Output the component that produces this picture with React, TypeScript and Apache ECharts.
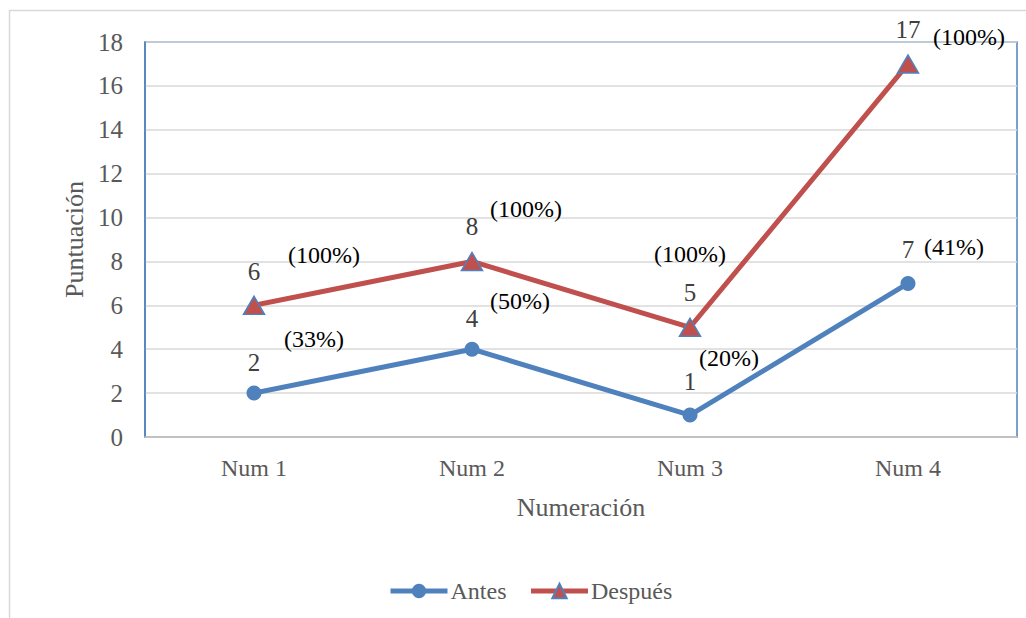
import React, { useEffect, useRef } from "react";
import * as echarts from "echarts";

// Chart data
const categories = ["Num 1", "Num 2", "Num 3", "Num 4"];
const antes = [2, 4, 1, 7];
const despues = [6, 8, 5, 17];
const antesPct = ["(33%)", "(50%)", "(20%)", "(41%)"];
const despuesPct = ["(100%)", "(100%)", "(100%)", "(100%)"];
const yTicks = { min: 0, max: 18, interval: 2 };

// Label placement relative to each point (x, y pixel offsets)
const antesValueOffsets = [[0, -31], [0, -31], [0, -34], [0, -34]];
const antesPctOffsets = [[60, -54], [48, -48], [39, -57], [46, -36]];
const despuesValueOffsets = [[0, -34], [0, -35], [0, -35], [0, -34]];
const despuesPctOffsets = [[70, -50], [54, -52], [0, -73], [61, -27]];

const FONT = "Liberation Serif";
const BLUE = "#4f81bd";
const RED = "#c0504d";
const GRAY_TEXT = "#595959";

function labeled(values: number[], texts: string[] | null, offsets: number[][], color: string, size: number) {
  return values.map((v, i) => ({
    value: v,
    label: {
      show: true,
      position: "inside",
      offset: offsets[i],
      formatter: texts ? texts[i] : String(v),
      color,
      opacity: 1,
      textBorderWidth: 0,
      textBorderColor: "transparent",
      fontFamily: FONT,
      fontWeight: "normal",
      fontSize: size,
    },
  }));
}

function hiddenLabelSeries(name: string, values: number[], texts: string[], offsets: number[][]) {
  return {
    name,
    type: "line",
    silent: true,
    showSymbol: true,
    symbol: "circle",
    symbolSize: 2,
    itemStyle: { color: "rgba(0,0,0,0)" },
    lineStyle: { color: "rgba(0,0,0,0)", width: 0 },
    z: 5,
    data: labeled(values, texts, offsets, "#000000", 24),
  };
}

export default function App() {
  const ref = useRef<HTMLDivElement>(null);

  useEffect(() => {
    document.body.style.margin = "0";
    if (!ref.current) return;
    const chart = echarts.init(ref.current, null, { renderer: "svg" });
    chart.setOption({
      animation: false,
      backgroundColor: "#ffffff",
      textStyle: { fontFamily: FONT },
      graphic: [
        {
          type: "rect",
          shape: { x: 9.5, y: 10.5, width: 1040, height: 640 },
          style: { fill: "none", stroke: "#d9d9d9", lineWidth: 1.5 },
          silent: true,
          z: -10,
        },
      ],
      grid: {
        left: 145,
        top: 42,
        right: 9,
        bottom: 181,
        show: true,
        borderColor: BLUE,
        borderWidth: 1.5,
        backgroundColor: "transparent",
      },
      legend: {
        data: ["Antes", "Después"],
        left: 383,
        top: 574,
        itemWidth: 57,
        itemHeight: 18,
        itemGap: 22,
        lineStyle: { width: 5 },
        textStyle: { fontFamily: FONT, fontSize: 24, color: GRAY_TEXT, padding: [0, 0, 0, -2] },
      },
      xAxis: {
        type: "category",
        data: categories,
        boundaryGap: true,
        name: "Numeración",
        nameLocation: "middle",
        nameGap: 57,
        nameTextStyle: { fontFamily: FONT, fontSize: 26, color: GRAY_TEXT },
        axisLine: { show: true, lineStyle: { color: "#bfbfbf", width: 1.5 } },
        axisTick: { show: false },
        axisLabel: { fontFamily: FONT, fontSize: 24, color: GRAY_TEXT, margin: 19 },
        splitLine: { show: false },
      },
      yAxis: {
        type: "value",
        min: yTicks.min,
        max: yTicks.max,
        interval: yTicks.interval,
        name: "Puntuación",
        nameLocation: "middle",
        nameGap: 58,
        nameTextStyle: { fontFamily: FONT, fontSize: 26, color: GRAY_TEXT },
        axisLine: { show: true, lineStyle: { color: BLUE, width: 1.5 } },
        axisTick: { show: false },
        axisLabel: { fontFamily: FONT, fontSize: 25, color: GRAY_TEXT, margin: 22 },
        splitLine: { show: true, lineStyle: { color: "#d9d9d9", width: 1.5 } },
      },
      series: [
        {
          name: "Antes",
          type: "line",
          symbol: "circle",
          symbolSize: 15,
          lineStyle: { color: BLUE, width: 5 },
          itemStyle: { color: BLUE },
          z: 3,
          data: labeled(antes, null, antesValueOffsets, "#404040", 25),
        },
        {
          name: "Después",
          type: "line",
          symbol: "triangle",
          symbolSize: [21, 18],
          lineStyle: { color: RED, width: 5 },
          itemStyle: { color: RED, borderColor: BLUE, borderWidth: 1.5 },
          z: 4,
          data: labeled(despues, null, despuesValueOffsets, "#404040", 25),
        },
        hiddenLabelSeries("AntesPct", antes, antesPct, antesPctOffsets),
        hiddenLabelSeries("DespuesPct", despues, despuesPct, despuesPctOffsets),
      ],
    });
    return () => chart.dispose();
  }, []);

  return <div ref={ref} style={{ width: 1026, height: 618 }} />;
}
